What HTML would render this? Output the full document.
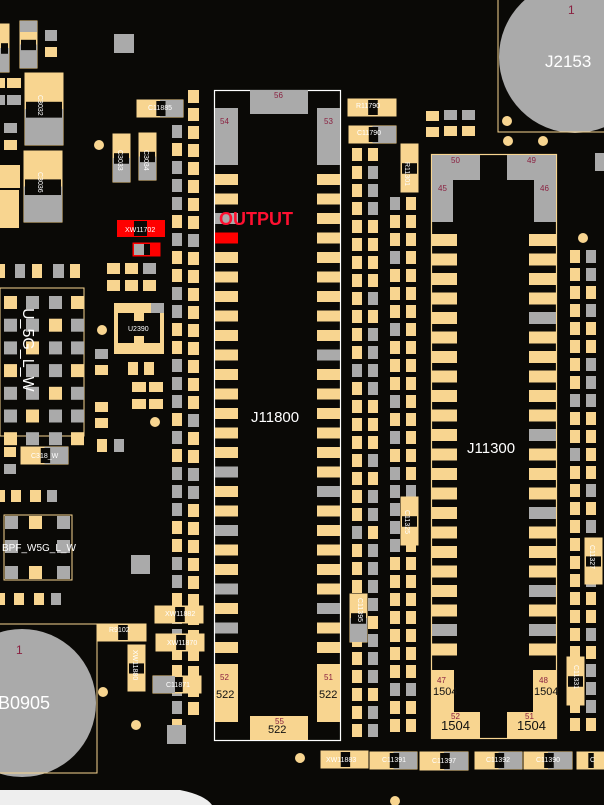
<!DOCTYPE html>
<html><head><meta charset="utf-8"><style>
html,body{margin:0;padding:0;background:#0a0906;width:604px;height:805px;overflow:hidden}
svg{display:block}
text{font-family:"Liberation Sans",sans-serif}
</style></head><body>
<svg id="s" width="604" height="805" viewBox="0 0 604 805" xmlns="http://www.w3.org/2000/svg">
<rect width="604" height="805" fill="#0a0906"/>
<path d="M0 790 L180 790 Q205 795 212 805 L0 805 Z" fill="#eeeeee"/>
<circle cx="575" cy="57" r="76" fill="#aaaaaa"/>
<path d="M498 0 V132 H604" fill="none" stroke="#f8d590" stroke-width="1"/>
<text x="568" y="14" fill="#8a2040" font-size="12">1</text>
<text x="545" y="67" fill="#ffffff" font-size="17">J2153</text>
<circle cx="22" cy="703" r="74" fill="#aaaaaa"/>
<path d="M0 624 H97 V773 H0" fill="none" stroke="#f8d590" stroke-width="1"/>
<text x="16" y="654" fill="#8a2040" font-size="12">1</text>
<text x="-2" y="709" fill="#ffffff" font-size="18">B0905</text>
<g id="g"></g>
<rect x="214.5" y="90.5" width="126" height="650" fill="none" stroke="#ffffff" stroke-width="1.2"/>
<rect x="431.5" y="154.5" width="125" height="584" fill="none" stroke="#f8d590" stroke-width="1.2"/>
<g id="g2"></g>
<text x="219" y="225" fill="#ff1030" font-size="18" font-weight="bold">OUTPUT</text>
<text x="251" y="422" fill="#ffffff" font-size="15">J11800</text>
<text x="467" y="453" fill="#ffffff" font-size="15">J11300</text>
<g font-size="8" fill="#8a2040">
<text x="274" y="98">56</text><text x="220" y="124">54</text><text x="324" y="124">53</text>
<text x="220" y="680">52</text><text x="324" y="680">51</text><text x="275" y="724">55</text>
<text x="451" y="163">50</text><text x="527" y="163">49</text><text x="438" y="191">45</text><text x="540" y="191">46</text>
<text x="437" y="683">47</text><text x="539" y="683">48</text><text x="451" y="719">52</text><text x="525" y="719">51</text>
</g>
<g font-size="11" fill="#111">
<text x="216" y="698">522</text><text x="319" y="698">522</text><text x="268" y="733">522</text>
<text x="433" y="695">1504</text><text x="534" y="695">1504</text>
</g>
<g font-size="13" fill="#111">
<text x="441" y="730">1504</text><text x="517" y="730">1504</text>
</g>
<g font-size="7" fill="#ffffff">
<text x="148" y="110">C11885</text>
<text x="356" y="108">R11790</text><text x="357" y="135">C11790</text>
<text x="125" y="232">XW11702</text>
<text x="128" y="331">U2390</text>
<text x="31" y="458">C318_W</text>
<text x="165" y="616">XW11882</text><text x="167" y="645">XW11870</text>
<text x="109" y="632">R9102</text><text x="166" y="687">C11871</text>
<text x="326" y="762">XW11883</text><text x="382" y="762">C11391</text><text x="432" y="763">C11397</text>
<text x="486" y="762">C11392</text><text x="536" y="762">C11390</text><text x="590" y="762">C</text>
</g>
<text x="2" y="551" fill="#ffffff" font-size="10">BPF_W5G_L_W</text>
<text transform="translate(23,308) rotate(90)" fill="#ffffff" font-size="16">U_5G_L_W</text>
<g font-size="7" fill="#ffffff">
<text transform="translate(38,95) rotate(90)">C3032</text>
<text transform="translate(38,172) rotate(90)">C3036</text>
<text transform="translate(118,150) rotate(90)">C3033</text>
<text transform="translate(144,150) rotate(90)">C3034</text>
<text transform="translate(405,162) rotate(90)">R11301</text>
<text transform="translate(405,510) rotate(90)">C11325</text>
<text transform="translate(358,598) rotate(90)">C11395</text>
<text transform="translate(133,650) rotate(90)">XW11880</text>
<text transform="translate(574,665) rotate(90)">C11331</text>
<text transform="translate(590,545) rotate(90)">C11327</text>
</g>
</svg>
<script>
(function(){
var NS="http://www.w3.org/2000/svg",g=document.getElementById("g"),g2=document.getElementById("g2");
var Y="#f8d590",G="#aaaaaa",R="#ff0000";
function r(x,y,w,h,c,p,st){var e=document.createElementNS(NS,"rect");e.setAttribute("x",x);e.setAttribute("y",y);e.setAttribute("width",w);e.setAttribute("height",h);e.setAttribute("fill",c);if(st){e.setAttribute("stroke",st);e.setAttribute("stroke-width","1");}(p||g).appendChild(e);}
function c(x,y,rr){var e=document.createElementNS(NS,"circle");e.setAttribute("cx",x);e.setAttribute("cy",y);e.setAttribute("r",rr);e.setAttribute("fill",Y);g.appendChild(e);}
var seed=7;function rnd(){seed=(seed*9301+49297)%233280;return seed/233280;}
function col(x,w,y0,y1,p,h,gp){for(var y=y0;y<y1;y+=p){r(x,y,w,h,rnd()<gp?G:Y);}}
col(172,10,125,720,18,13,0.5);col(188,11,90,720,18,13,0.15);
col(352,10,148,730,18,13,0.1);col(368,10,148,730,18,13,0.45);
col(390,10,197,735,18,13,0.35);col(406,10,197,735,18,13,0.1);
col(570,10,250,720,18,13,0.15);col(586,10,250,720,18,13,0.4);
var lg=[2,15,18,21,23],rg=[9,16,22];
for(var i=0;i<25;i++){var y=174+i*19.5;r(215,y,23,11,i==3?R:(lg.indexOf(i)>=0?G:Y),g2);r(317,y,23,11,rg.indexOf(i)>=0?G:Y,g2);}
r(215,108,23,57,G,g2);r(317,108,23,57,G,g2);r(250,90,58,24,G,g2);
r(215,664,23,58,Y,g2);r(317,664,23,58,Y,g2);r(250,716,58,24,Y,g2);
var lg2=[20,22],rg2=[4,10,14,18,20,22];
for(var i=0;i<22;i++){var y=234+i*19.5;r(432,y,25,12,lg2.indexOf(i)>=0?G:Y,g2);r(529,y,27,12,rg2.indexOf(i)>=0?G:Y,g2);}
r(432,155,48,25,G,g2);r(432,155,21,67,G,g2);r(507,155,49,25,G,g2);r(534,155,22,67,G,g2);
r(432,670,22,42,Y,g2);r(432,712,48,26,Y,g2);r(533,670,23,42,Y,g2);r(507,712,49,26,Y,g2);
function comp(x,y,w,h,vert,c1,c2){r(x,y,w,h,Y,null,Y);if(vert){r(x,y+h/2,w,h/2,c2||G);r(x+1,y+h*0.4,w-2,h*0.22,"#0a0906");}else{r(x+w/2,y,w/2,h,c2||G);r(x+w*0.42,y+1,w*0.2,h-2,"#0a0906");}}
comp(25,73,38,72,1);comp(24,151,38,71,1);comp(113,134,17,48,1);comp(139,133,17,47,1);
comp(20,21,17,47,1,Y,G);r(20,21,17,11,G);comp(0,24,9,48,1);
comp(137,100,46,17,0);comp(348,99,48,17,0,Y,Y);comp(349,126,47,17,0);
comp(401,144,17,48,1,Y,Y);comp(401,497,17,48,1,Y,Y);comp(350,594,17,48,1,Y,G);
comp(98,624,48,17,0,Y,Y);comp(155,606,48,17,0,Y,Y);comp(156,634,48,17,0,Y,Y);
comp(128,645,17,46,1,Y,Y);comp(153,676,48,17,0,G,Y);r(153,676,22,17,G);
comp(321,751,47,17,0,Y,Y);comp(370,752,47,17,0);comp(420,752,48,18,0,Y,G);
comp(475,752,47,17,0);comp(524,752,48,17,0);comp(577,752,27,17,0,Y,Y);
comp(567,657,17,48,1,Y,Y);comp(585,538,17,46,1,Y,Y);comp(21,447,47,17,0);
r(117,220,48,17,R);r(134,221,13,15,"#0a0906");r(133,243,27,13,R,null,"#ff0000");r(134,244,10,11,G);r(144,244,6,11,"#0a0906");
r(45,30,12,11,G);r(45,47,12,10,Y);r(114,34,20,19,G);
r(0,78,5,10,Y);r(7,78,14,10,Y);r(0,95,5,10,G);r(7,95,14,10,G);r(4,123,13,10,G);r(4,140,13,10,Y);
r(0,165,20,23,Y);r(0,190,19,38,Y);
r(0,264,5,14,Y);r(15,264,10,14,G);r(32,264,10,14,Y);r(53,264,11,14,G);r(70,264,10,14,Y);
r(107,263,13,11,Y);r(125,263,13,11,Y);r(143,263,13,11,G);r(107,280,13,11,Y);r(125,280,13,11,Y);r(143,280,13,11,Y);
r(0,288,84,148,"#0a0906",null,Y);
for(var j=0;j<7;j++)for(var k=0;k<4;k++){r([4,26,49,71][k],296+j*22.7,13,13,((j+k)%3==0)?Y:G);}
r(114,303,50,51,Y);r(118,313,42,30,"#0a0906");r(134,311,10,10,Y);r(134,336,10,10,Y);r(151,303,13,10,G);
r(95,349,13,10,G);r(95,365,13,10,Y);r(128,362,10,13,Y);r(144,362,10,13,Y);
r(132,382,14,10,Y);r(149,382,14,10,Y);r(132,399,14,10,Y);r(149,399,14,10,Y);
r(95,402,13,10,Y);r(95,418,13,10,Y);r(97,439,10,13,Y);r(114,439,10,13,G);
r(4,447,12,10,Y);r(4,464,12,10,G);
r(0,490,5,12,Y);r(11,490,10,12,Y);r(30,490,11,12,Y);r(47,490,10,12,G);
r(0,593,5,12,Y);r(14,593,10,12,Y);r(34,593,10,12,Y);r(51,593,10,12,G);
r(4,515,68,65,"#0a0906",null,Y);
[[5,516,G],[29,516,Y],[57,516,G],[5,540,G],[57,540,G],[5,566,G],[29,566,Y],[57,566,G]].forEach(function(a){r(a[0],a[1],13,13,a[2]);});
r(131,555,19,19,G);r(167,725,19,19,G);
r(426,111,13,10,Y);r(444,110,13,10,G);r(462,110,13,10,G);r(426,127,13,10,Y);r(444,126,13,10,Y);r(462,126,13,10,Y);
r(595,153,9,18,G);
[[99,145],[102,330],[155,422],[103,692],[136,725],[300,758],[507,121],[508,141],[543,141],[583,238],[395,801]].forEach(function(a){c(a[0],a[1],5);});
})();
</script>
</body></html>
